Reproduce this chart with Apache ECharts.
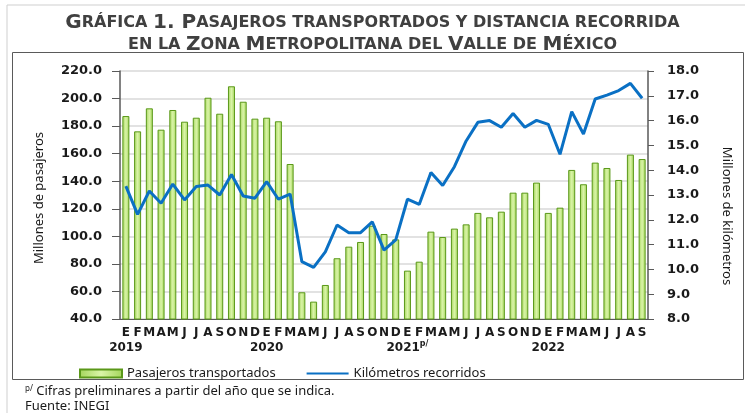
<!DOCTYPE html>
<html>
<head>
<meta charset="utf-8">
<script src="https://cdn.jsdelivr.net/npm/echarts@6/dist/echarts.min.js"></script>
<style>
  html, body { margin: 0; padding: 0; background: #fff; }
  #chart { width: 745px; height: 413px; }
</style>
</head>
<body>
<div id="chart"></div>
<script>
// meses y años del eje
const months = ['E', 'F', 'M', 'A', 'M', 'J', 'J', 'A', 'S', 'O', 'N', 'D'];
const years = ['2019', '2020', '2021', '2022'];
const yearLabels = ['2019', '2020', '2021{sup|p/}', '2022'];

// millones de pasajeros (barras, eje izquierdo)
const pasajeros = [
  187.3, 176.2, 192.9, 177.4, 191.7, 183.2, 186.1, 200.6, 189.0, 208.9, 197.7, 185.4,
  186.1, 183.5, 152.5, 59.4, 52.6, 64.7, 84.1, 92.5, 95.9, 107.7, 101.7, 97.8,
  75.1, 81.6, 103.4, 99.5, 105.6, 108.7, 117.0, 113.8, 117.9, 131.7, 131.7, 139.0,
  117.0, 120.8, 148.2, 137.8, 153.5, 149.6, 140.9, 159.3, 156.1
];

// millones de kilómetros (línea, eje derecho)
const kilometros = [
  13.36, 12.22, 13.16, 12.67, 13.44, 12.80, 13.34, 13.40, 13.00, 13.83, 12.96, 12.87,
  13.54, 12.83, 13.04, 10.31, 10.08, 10.71, 11.79, 11.48, 11.48, 11.92, 10.78, 11.19,
  12.83, 12.62, 13.91, 13.38, 14.14, 15.18, 15.93, 16.00, 15.73, 16.29, 15.73, 16.01,
  15.85, 14.64, 16.36, 15.46, 16.87, 17.03, 17.21, 17.50, 16.90
];

// categorías: mes-año
const categories = [];
for (let i = 0; i < pasajeros.length; i++) {
  categories.push(months[i % 12] + '-' + years[Math.floor(i / 12)]);
}

const chart = echarts.init(document.getElementById('chart'));

const axisFont = 'DejaVu Sans';
const textFont = 'Noto Sans';

const option = {
  backgroundColor: '#fff',
  animation: false,
  title: {
    left: 'center',
    top: 7,
    text: '{b|G}{s|RÁFICA }{b|1. P}{s|ASAJEROS TRANSPORTADOS Y DISTANCIA RECORRIDA}\n' +
          '{s|EN LA }{b|Z}{s|ONA }{b|M}{s|ETROPOLITANA DEL }{b|V}{s|ALLE DE }{b|M}{s|ÉXICO}',
    textStyle: {
      rich: {
        b: { fontFamily: axisFont, fontWeight: 'bold', fontSize: 20, color: '#404040', lineHeight: 22 },
        s: { fontFamily: axisFont, fontWeight: 'bold', fontSize: 16, color: '#404040', lineHeight: 22 }
      }
    }
  },
  legend: {
    left: 74,
    top: 362,
    itemWidth: 42,
    itemHeight: 8,
    itemGap: 30,
    textStyle: { fontFamily: textFont, fontSize: 13, color: '#1a1a1a' },
    data: [
      { name: 'Pasajeros transportados', icon: 'rect' },
      { name: 'Kilómetros recorridos', itemStyle: { opacity: 0 } }
    ]
  },
  grid: { left: 120, right: 97, top: 71, bottom: 94 },
  xAxis: {
    type: 'category',
    data: categories,
    axisLine: { lineStyle: { color: '#595959', width: 1 } },
    axisTick: { interval: 11, length: 4, lineStyle: { color: '#595959' } },
    axisLabel: {
      interval: 0,
      margin: 6,
      fontFamily: axisFont,
      fontWeight: 'bold',
      fontSize: 12,
      color: '#1a1a1a',
      lineHeight: 15,
      formatter: function (v, i) {
        let s = months[i % 12];
        if (i % 12 === 0) s += '\n' + yearLabels[i / 12];
        return s;
      },
      rich: {
        sup: { fontFamily: axisFont, fontWeight: 'bold', fontSize: 8, verticalAlign: 'top', color: '#1a1a1a' }
      }
    }
  },
  yAxis: [
    {
      type: 'value',
      min: 40,
      max: 220,
      interval: 20,
      axisLine: { show: true, lineStyle: { color: '#595959', width: 1.5 } },
      axisTick: { show: true, length: 8, lineStyle: { color: '#595959' } },
      axisLabel: {
        margin: 18,
        fontFamily: axisFont,
        fontWeight: 'bold',
        fontSize: 13,
        color: '#1a1a1a',
        formatter: v => v.toFixed(1)
      },
      splitLine: { lineStyle: { color: '#d9d9d9', width: 1.5 } }
    },
    {
      type: 'value',
      min: 8,
      max: 18,
      interval: 1,
      axisLine: { show: true, lineStyle: { color: '#595959', width: 1.5 } },
      axisTick: { show: true, length: 6, lineStyle: { color: '#595959' } },
      axisLabel: {
        margin: 19,
        fontFamily: axisFont,
        fontWeight: 'bold',
        fontSize: 13,
        color: '#1a1a1a',
        formatter: v => v.toFixed(1)
      },
      splitLine: { show: false }
    }
  ],
  graphic: [
    // marco de página
    { type: 'line', shape: { x1: 7, y1: 5, x2: 745, y2: 5 }, style: { stroke: '#cfcfcf', lineWidth: 1 } },
    { type: 'line', shape: { x1: 7, y1: 5, x2: 7, y2: 413 }, style: { stroke: '#cfcfcf', lineWidth: 1 } },
    // recuadro de la gráfica
    { type: 'rect', shape: { x: 12.5, y: 52.5, width: 731, height: 327 }, style: { fill: 'none', stroke: '#5a5a5a', lineWidth: 1 }, z: -1 },
    // nombres de los ejes
    {
      type: 'text', x: 39, y: 198, rotation: Math.PI / 2,
      style: { text: 'Millones de pasajeros', fontFamily: textFont, fontSize: 13, fill: '#1a1a1a', align: 'center', verticalAlign: 'middle' }
    },
    {
      type: 'text', x: 727, y: 216, rotation: -Math.PI / 2,
      style: { text: 'Millones de kilómetros', fontFamily: textFont, fontSize: 13, fill: '#1a1a1a', align: 'center', verticalAlign: 'middle' }
    },
    // notas
    {
      type: 'text', x: 25, y: 391,
      style: {
        text: '{sup|p/} Cifras preliminares a partir del año que se indica.',
        fontFamily: textFont, fontSize: 13, fill: '#1a1a1a', verticalAlign: 'middle',
        rich: { sup: { fontFamily: textFont, fontSize: 8, verticalAlign: 'top', fill: '#1a1a1a' } }
      }
    },
    {
      type: 'text', x: 25, y: 406,
      style: { text: 'Fuente: INEGI', fontFamily: textFont, fontSize: 13, fill: '#1a1a1a', verticalAlign: 'middle' }
    }
  ],
  series: [
    {
      name: 'Pasajeros transportados',
      type: 'bar',
      yAxisIndex: 0,
      barWidth: 7,
      data: pasajeros,
      itemStyle: {
        color: new echarts.graphic.LinearGradient(0, 0, 1, 0, [
          { offset: 0, color: '#a3d55a' },
          { offset: 0.5, color: '#daf4a8' },
          { offset: 1, color: '#a3d55a' }
        ]),
        borderColor: '#5a9819',
        borderWidth: 1
      }
    },
    {
      name: 'Kilómetros recorridos',
      type: 'line',
      yAxisIndex: 1,
      data: kilometros,
      symbol: 'none',
      lineStyle: { color: '#0a70c4', width: 3 },
      itemStyle: { color: '#0a70c4' },
      z: 3
    }
  ]
};

chart.setOption(option);
</script>
</body>
</html>
